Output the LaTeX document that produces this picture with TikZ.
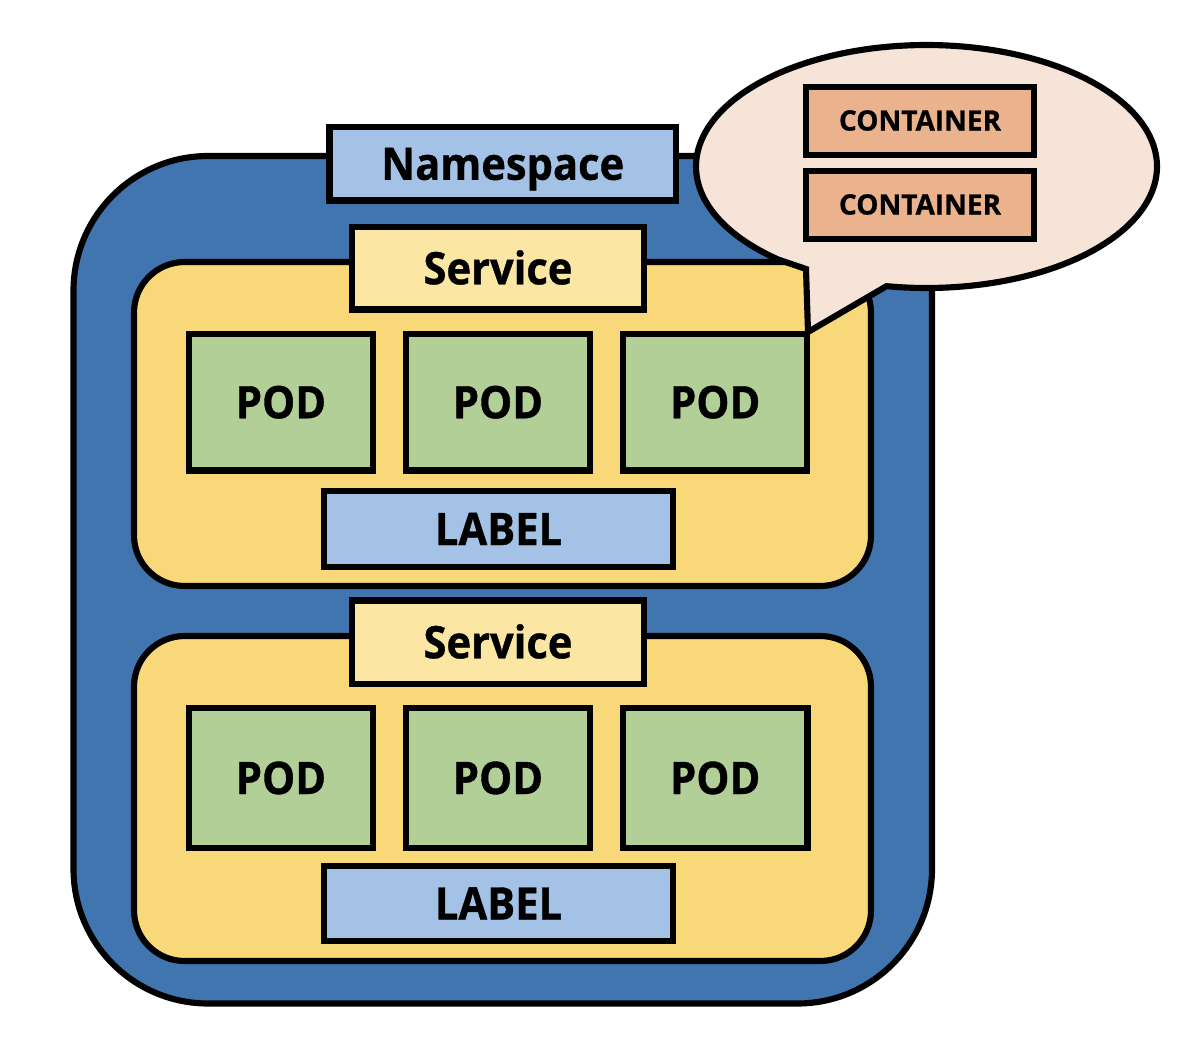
\documentclass[tikz,border=0pt]{standalone}
\usepackage{fontspec}
\setmainfont{Open Sans}[FakeStretch=0.93, BoldFeatures={FakeBold=0.8}]
\newfontfamily\contfont{Open Sans}[FakeStretch=1.0, BoldFeatures={FakeBold=0.8}]
\definecolor{nsblue}{RGB}{65,117,176}
\definecolor{lblue}{RGB}{164,194,229}
\definecolor{svcyel}{RGB}{248,216,120}
\definecolor{svclab}{RGB}{251,230,163}
\definecolor{podgreen}{RGB}{178,207,151}
\definecolor{bubble}{RGB}{247,228,216}
\definecolor{contor}{RGB}{234,179,141}
\tikzset{
  x=0.75pt, y=-0.75pt,
  frame/.style={draw=black, line width=4.6pt, inner sep=0pt, outer sep=0pt},
  sz/.style 2 args={minimum width=#1*0.75pt, minimum height=#2*0.75pt},
  bigtxt/.style={font=\bfseries\fontsize{33.6pt}{36pt}\selectfont, text height=24pt, text depth=0pt},
  smalltxt/.style={font=\contfont\bfseries\fontsize{21pt}{24pt}\selectfont, text height=14.25pt, text depth=0pt},
  nsbox/.style={frame, fill=nsblue, rounded corners=101pt},
  svcbox/.style={frame, fill=svcyel, rounded corners=38pt},
  tagbox/.style={frame, fill=lblue, bigtxt},
  svctag/.style={frame, fill=svclab, bigtxt},
  podbox/.style={frame, fill=podgreen, bigtxt, sz={184}{136.5}},
  contbox/.style={frame, fill=contor, smalltxt, sz={228}{68}},
}
\begin{document}
\begin{tikzpicture}
\useasboundingbox (0,0) rectangle (1184,1046);
% outer namespace
\node[nsbox, sz={858.5}{847.5}] (ns) at (502.75,579.75) {};
\node[tagbox, sz={346.5}{73.5}] (nstag) at (502.75,163.75) {Namespace};
% service 1
\node[svcbox, sz={737}{324}] (svc1) at (502.5,424) {};
\node[svctag, sz={292}{82.5}] (svctag1) at (498,268.25) {Service};
\node[podbox] (pod11) at (281,402.25) {POD};
\node[podbox] (pod12) at (498,402.25) {POD};
\node[podbox] (pod13) at (715.25,402.25) {POD};
\node[tagbox, sz={349}{76}] (lab1) at (498.5,529) {LABEL};
% service 2
\node[svcbox, sz={737}{325}] (svc2) at (502.5,798.5) {};
\node[svctag, sz={292}{83.5}] (svctag2) at (498,642.25) {Service};
\node[podbox, sz={184}{140}] (pod21) at (281,778) {POD};
\node[podbox, sz={184}{140}] (pod22) at (498,778) {POD};
\node[podbox, sz={184.5}{140}] (pod23) at (715.25,778) {POD};
\node[tagbox, sz={349}{75}] (lab2) at (498.5,903.5) {LABEL};
% speech bubble
\coordinate (tailtop) at (806,269);
\coordinate (tailtip) at (808,332);
\draw[line width=4.6pt, fill=bubble, line join=miter]
  plot[domain=130:460, samples=240, smooth] ({926.5+230.5*cos(\x)},{166.5+121.5*sin(\x)})
  -- (tailtip) -- (tailtop) -- cycle;
\node[contbox] (cont1) at (920,121) {CONTAINER};
\node[contbox] (cont2) at (920,205) {CONTAINER};
\end{tikzpicture}
\end{document}
